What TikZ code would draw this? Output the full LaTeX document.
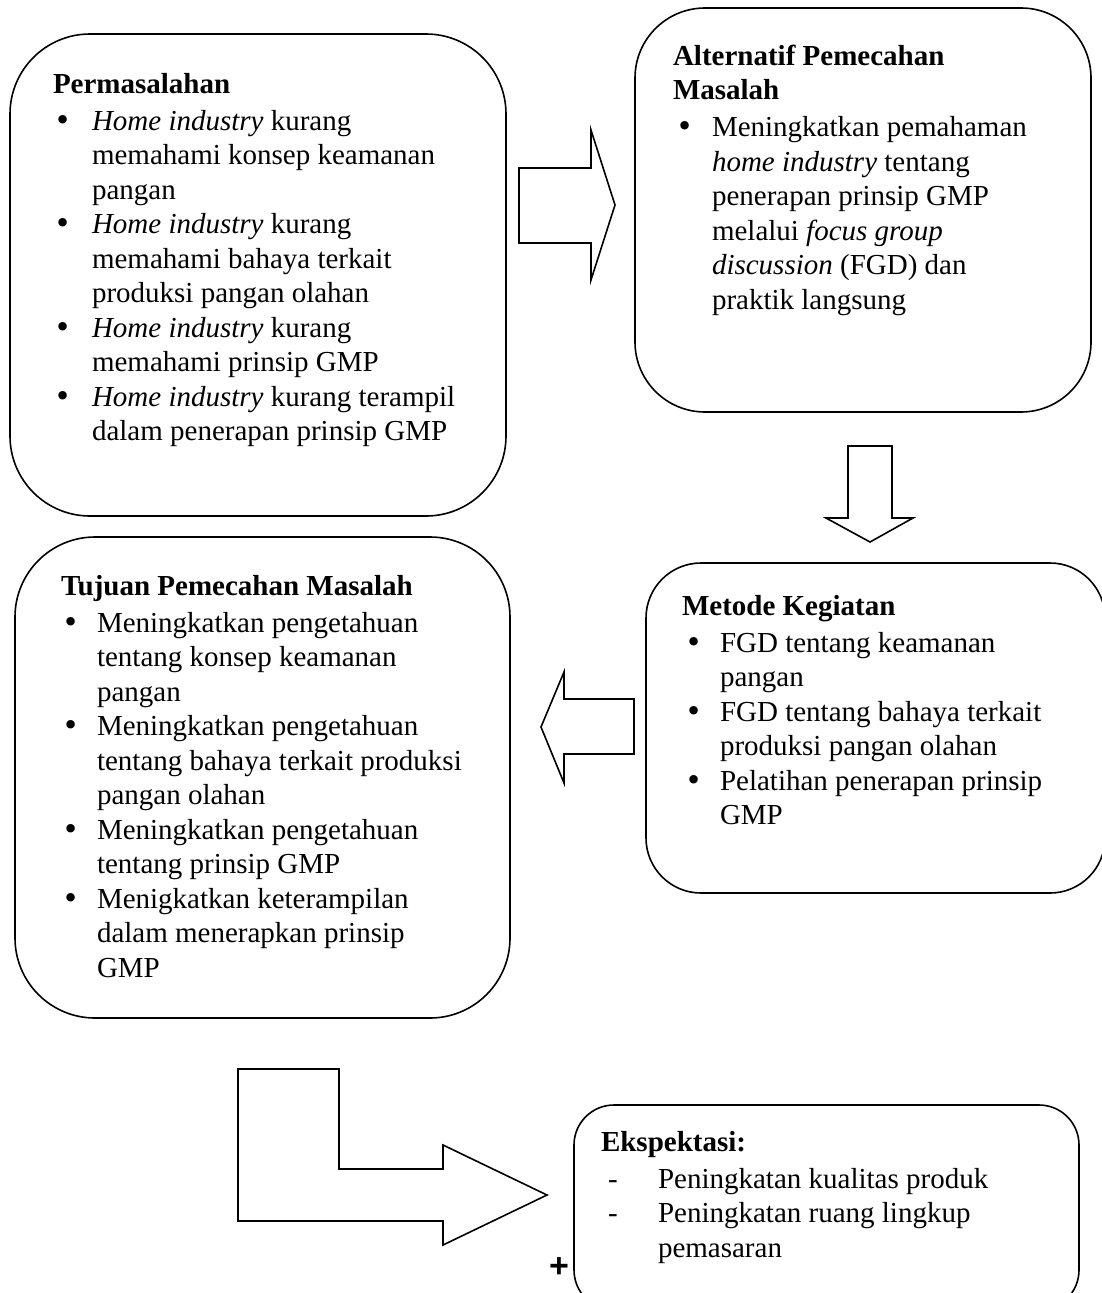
\documentclass[tikz,border=0pt]{standalone}
\usepackage{fontspec}
\setmainfont{Liberation Serif}
\newfontfamily\plusfont{Liberation Sans}
\newfontfamily\dejavu{DejaVu Sans}
\newlength\bind
\newlength\boff
\def\blab{{\dejavu •}}
\newcommand\bitem[1]{\par\noindent\hangindent=\bind\hangafter=1\makebox[\bind][l]{\hspace{\boff}\blab}#1}
\newcommand\btitle[1]{\noindent\textbf{#1}\par\vspace{2.5pt}}
\newcommand\setfont{\fontsize{29}{34.5}\selectfont}
\tikzset{
  box/.style={draw, line width=1.6pt, rectangle, inner sep=0pt, outer sep=0pt},
  txt/.style={anchor=base west, inner sep=0pt, outer sep=0pt},
  blk/.style={draw, line width=1.6pt, line join=miter, fill=white}
}
\begin{document}
\begin{tikzpicture}[x=1pt,y=-1pt]
\useasboundingbox (0,0) rectangle (1102,1293);
\clip (0,0) rectangle (1102,1293);
\fill[white] (0,0) rectangle (1102,1293);

% boxes
\node[box, rounded corners=80pt, minimum width=496pt, minimum height=482pt] (b1) at (258,275) {};
\node[box, rounded corners=70pt, minimum width=456pt, minimum height=404pt] (b2) at (863,210) {};
\node[box, rounded corners=55pt, minimum width=459pt, minimum height=330pt] (b3) at (875.5,728) {};
\node[box, rounded corners=80pt, minimum width=495pt, minimum height=481pt] (b4) at (262.5,777.5) {};
\node[box, rounded corners=40pt, minimum width=505pt, minimum height=205pt] (b5) at (826.5,1207.5) {};

% block arrows
\draw[blk] (519,168) -- (591,168) -- (591,130) -- (615,205) -- (591,280) -- (591,243) -- (519,243) -- cycle;
\draw[blk] (848,446) -- (892,446) -- (892,518) -- (913,518) -- (870,542) -- (826,518) -- (848,518) -- cycle;
\draw[blk] (634,699) -- (634,754) -- (564,754) -- (564,783) -- (541,727) -- (564,672) -- (564,699) -- cycle;
\draw[blk] (238,1069) -- (339,1069) -- (339,1169) -- (443,1169) -- (443,1145) -- (547,1195) -- (443,1245) -- (443,1221) -- (238,1221) -- cycle;

% texts
\node[txt] (t1) at (53,93) {\begin{minipage}[t]{480pt}\setfont
\setlength\bind{39pt}\setlength\boff{1pt}
\btitle{Permasalahan}
\bitem{\textit{Home industry} kurang\\memahami konsep keamanan\\pangan}
\bitem{\textit{Home industry} kurang\\memahami bahaya terkait\\produksi pangan olahan}
\bitem{\textit{Home industry} kurang\\memahami prinsip GMP}
\bitem{\textit{Home industry} kurang terampil\\dalam penerapan prinsip GMP}
\end{minipage}};

\node[txt] (t2) at (673,65) {\begin{minipage}[t]{420pt}\setfont
\setlength\bind{39pt}\setlength\boff{3pt}
\btitle{Alternatif Pemecahan\\Masalah}
\bitem{Meningkatkan pemahaman\\\textit{home industry} tentang\\penerapan prinsip GMP\\melalui \textit{focus group}\\\textit{discussion} (FGD) dan\\praktik langsung}
\end{minipage}};

\node[txt] (t3) at (682,615) {\begin{minipage}[t]{420pt}\setfont
\setlength\bind{38pt}\setlength\boff{3pt}
\btitle{Metode Kegiatan}
\bitem{FGD tentang keamanan\\pangan}
\bitem{FGD tentang bahaya terkait\\produksi pangan olahan}
\bitem{Pelatihan penerapan prinsip\\GMP}
\end{minipage}};

\node[txt] (t4) at (61,595) {\begin{minipage}[t]{480pt}\setfont
\setlength\bind{36pt}\setlength\boff{1pt}
\btitle{Tujuan Pemecahan Masalah}
\bitem{Meningkatkan pengetahuan\\tentang konsep keamanan\\pangan}
\bitem{Meningkatkan pengetahuan\\tentang bahaya terkait produksi\\pangan olahan}
\bitem{Meningkatkan pengetahuan\\tentang prinsip GMP}
\bitem{Menigkatkan keterampilan\\dalam menerapkan prinsip\\GMP}
\end{minipage}};

\node[txt] (t5) at (601,1151) {\begin{minipage}[t]{470pt}\setfont
\setlength\bind{57pt}\setlength\boff{7pt}\def\blab{-}
\btitle{Ekspektasi:}
\bitem{Peningkatan kualitas produk}
\bitem{Peningkatan ruang lingkup\\pemasaran}
\end{minipage}};

\node[inner sep=0pt, anchor=center] (plus) at (559,1268) {\plusfont\bfseries\fontsize{34}{34}\selectfont +};
\end{tikzpicture}
\end{document}
